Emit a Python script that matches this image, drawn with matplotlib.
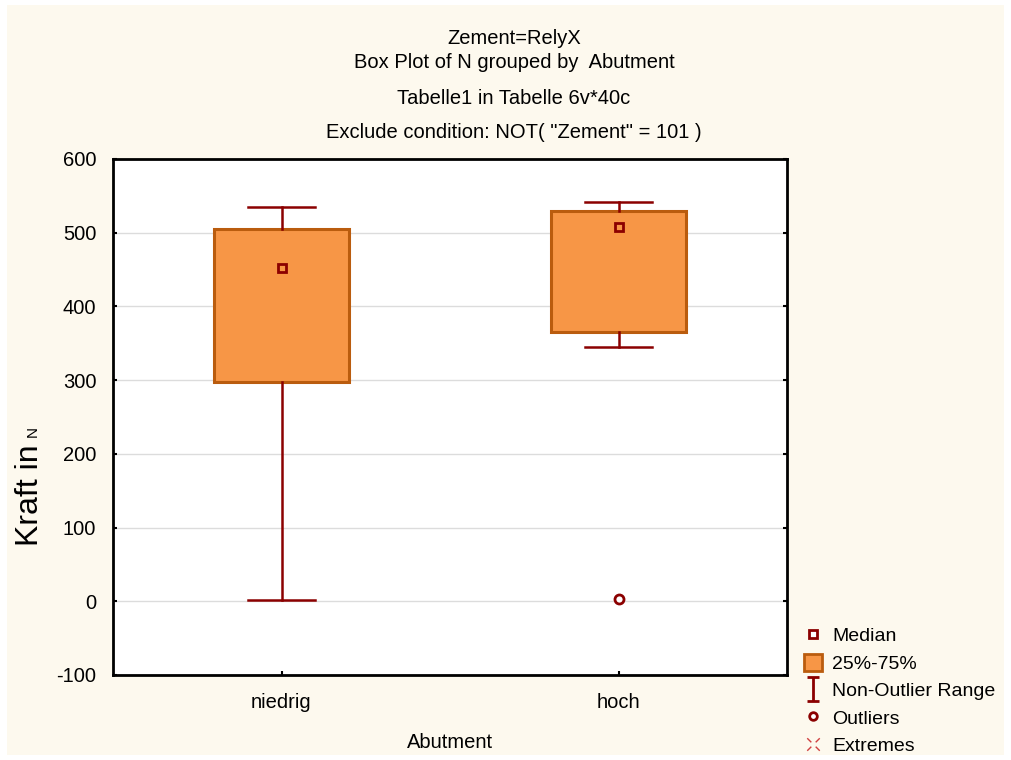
import numpy as np
import matplotlib.pyplot as plt
from matplotlib.path import Path
from matplotlib.patches import Patch, Rectangle
from matplotlib.lines import Line2D

plt.rcParams['font.family'] = ['Liberation Sans', 'DejaVu Sans']
plt.rcParams['axes.unicode_minus'] = False

# values
groups = ["niedrig", "hoch"]
q1 = [297, 365]
q3 = [505, 530]
medians = [452, 508]
whisker_low = [2, 345]
whisker_high = [535, 542]
outliers = [[], [3]]

title_lines = ["Zement=RelyX", "Box Plot of N grouped by  Abutment",
               "Tabelle1 in Tabelle 6v*40c",
               'Exclude condition: NOT( "Zement" = 101 )']

cream = "#FDF9EE"
box_face = "#F79646"
box_edge = "#BA5C0E"
dark_red = "#8B0000"

fig = plt.figure(figsize=(10.11, 7.6), dpi=100, facecolor="white")
fig.patches.append(Rectangle((7 / 1011, 5 / 760), 997 / 1011, 750 / 760,
                             transform=fig.transFigure, facecolor=cream,
                             edgecolor="none", zorder=-10))
ax = fig.add_axes([113 / 1011, 85 / 760, 674 / 1011, 516 / 760])
ax.set_facecolor("white")

positions = np.arange(1, len(groups) + 1)
stats = []
for i, g in enumerate(groups):
    stats.append(dict(label=g, q1=q1[i], q3=q3[i], med=medians[i],
                      whislo=whisker_low[i], whishi=whisker_high[i],
                      fliers=outliers[i]))

ax.bxp(stats, positions=positions, widths=0.4, capwidths=0.2,
       patch_artist=True, showfliers=True,
       boxprops=dict(facecolor=box_face, edgecolor=box_edge, linewidth=2.2),
       whiskerprops=dict(color=dark_red, linewidth=1.8),
       capprops=dict(color=dark_red, linewidth=1.8),
       medianprops=dict(linewidth=0),
       flierprops=dict(marker="o", markersize=6.5, markerfacecolor="white",
                       markeredgecolor=dark_red, markeredgewidth=2),
       zorder=3)
ax.plot(positions, medians, linestyle="none", marker="s", markersize=6,
        markerfacecolor=box_face, markeredgecolor=dark_red,
        markeredgewidth=2, zorder=5)

ax.set_xlim(0.5, 2.5)
ax.set_ylim(-100, 600)
ax.set_yticks(np.arange(-100, 601, 100))
ax.set_xticks(positions)
ax.set_xticklabels(groups)
ax.yaxis.grid(True, color="#DCDCDC", linewidth=1)
ax.set_axisbelow(True)
for s in ax.spines.values():
    s.set_linewidth(2)
    s.set_color("black")
ax.tick_params(axis="both", direction="in", length=3, width=1.5,
               labelsize=14.5)
ax.tick_params(axis="x", pad=13)
ax.tick_params(axis="y", right=True, pad=12)
ax.set_xlabel("Abutment", fontsize=14.5, labelpad=15)

# y label: big "Kraft in" with a small "N"
fig.text(30 / 1011, 1 - 495 / 760, "Kraft in", rotation=90, fontsize=23,
         ha="center", va="center")
fig.text(33 / 1011, 1 - 431 / 760, "N", rotation=90, fontsize=11,
         ha="center", va="center")

title_y = [38, 62, 98, 132]
for t, y in zip(title_lines, title_y):
    fig.text(514 / 1011, 1 - y / 760, t, fontsize=14.5, ha="center",
             va="center")

# legend
ibeam = Path([(-0.5, 1), (0.5, 1), (0, 1), (0, -1), (-0.5, -1), (0.5, -1)],
             [Path.MOVETO, Path.LINETO, Path.MOVETO, Path.LINETO,
              Path.MOVETO, Path.LINETO])
xmark = Path([(-1, 1), (-0.35, 0.35), (1, 1), (0.35, 0.35),
              (-1, -1), (-0.35, -0.35), (1, -1), (0.35, -0.35)],
             [Path.MOVETO, Path.LINETO] * 4)
handles = [
    Line2D([], [], linestyle="none", marker="s", markersize=6,
           markerfacecolor="white", markeredgecolor=dark_red,
           markeredgewidth=2),
    Patch(facecolor=box_face, edgecolor=box_edge, linewidth=2),
    Line2D([], [], linestyle="none", marker=ibeam, markersize=17,
           markeredgecolor=dark_red, markeredgewidth=2),
    Line2D([], [], linestyle="none", marker="o", markersize=5.5,
           markerfacecolor="white", markeredgecolor=dark_red,
           markeredgewidth=2),
    Line2D([], [], linestyle="none", marker=xmark, markersize=9,
           markeredgecolor="#D04040", markeredgewidth=1),
]
labels = ["Median", "25%-75%", "Non-Outlier Range", "Outliers", "Extremes"]
fig.legend(handles, labels, loc="upper left",
           bbox_to_anchor=(804 / 1011, 1 - 626 / 760), frameon=False,
           fontsize=14, handlelength=0.9, handleheight=1.0,
           handletextpad=0.55, labelspacing=0.42, borderpad=0,
           borderaxespad=0)

fig.savefig("out.png", dpi=100, facecolor=fig.get_facecolor())
